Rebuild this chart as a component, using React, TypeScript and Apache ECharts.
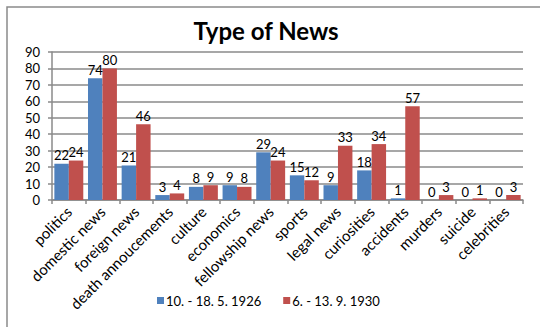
import React, { useEffect, useRef } from "react";
import * as echarts from "echarts";

const categories = [
  "politics", "domestic news", "foreign news", "death annoucements", "culture",
  "economics", "fellowship news", "sports", "legal news", "curiosities",
  "accidents", "murders", "suicide", "celebrities",
];
const series1926 = [22, 74, 21, 3, 8, 9, 29, 15, 9, 18, 1, 0, 0, 0];
const series1930 = [24, 80, 46, 4, 9, 8, 24, 12, 33, 34, 57, 3, 1, 3];
const seriesNames = ["10. - 18. 5. 1926", "6. - 13. 9. 1930"];

const FONT = "Lato, 'Open Sans', sans-serif";

export default function App() {
  const ref = useRef<HTMLDivElement>(null);
  useEffect(() => {
    if (!ref.current) return;
    const chart = echarts.init(ref.current, null, { renderer: "svg" });
    chart.setOption({
      animation: false,
      backgroundColor: "#fff",
      textStyle: { fontFamily: FONT },
      title: {
        text: "Type of News",
        left: 261,
        textAlign: "center",
        top: 13,
        textStyle: { fontSize: 24, fontWeight: "bold", color: "#000", fontFamily: FONT },
      },
      graphic: [
        {
          type: "rect",
          shape: { x: 7, y: 7, width: 600, height: 400 },
          style: { fill: "none", stroke: "#8a8a8a", lineWidth: 1.5 },
          silent: true,
        },
      ],
      legend: {
        top: 289,
        left: 152,
        itemWidth: 7,
        itemHeight: 7,
        itemGap: 22,
        icon: "rect",
        textStyle: { fontSize: 13, color: "#000", fontFamily: FONT, padding: [0, 0, 0, -3] },
        data: seriesNames,
      },
      grid: { left: 52, right: 17, top: 52, bottom: 127, containLabel: false },
      xAxis: {
        type: "category",
        data: categories,
        axisLine: { lineStyle: { color: "#8a8a8a", width: 1.5 } },
        axisTick: { show: true, length: 4, lineStyle: { color: "#8a8a8a", width: 1.5 } },
        axisLabel: { rotate: 45, fontSize: 15, color: "#000", margin: 9, interval: 0, fontFamily: FONT },
      },
      yAxis: {
        type: "value",
        min: 0,
        max: 90,
        interval: 10,
        axisLine: { show: true, lineStyle: { color: "#8a8a8a", width: 1.5 } },
        axisTick: { show: true, length: 4, lineStyle: { color: "#8a8a8a", width: 1.5 } },
        axisLabel: { fontSize: 13, color: "#000", margin: 12, fontFamily: FONT },
        splitLine: { lineStyle: { color: "#8a8a8a", width: 1.5 } },
      },
      series: [
        {
          name: seriesNames[0],
          type: "bar",
          data: series1926,
          barGap: "0%",
          barCategoryGap: "14%",
          itemStyle: { color: "#4F81BD" },
          label: { show: true, position: "top", fontSize: 13, color: "#000", distance: 2, fontFamily: FONT },
        },
        {
          name: seriesNames[1],
          type: "bar",
          data: series1930,
          barGap: "0%",
          barCategoryGap: "14%",
          itemStyle: { color: "#C0504D" },
          label: { show: true, position: "top", fontSize: 13, color: "#000", distance: 2, fontFamily: FONT },
        },
      ],
    });
    return () => chart.dispose();
  }, []);
  return <div ref={ref} style={{ width: 540, height: 327, position: "absolute", left: 0, top: 0 }} />;
}
